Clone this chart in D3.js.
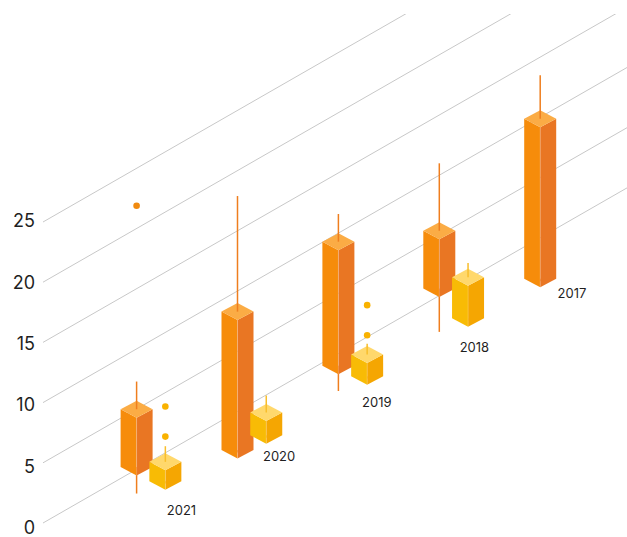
<!DOCTYPE html>
<html>
<head>
<meta charset="utf-8">
<script src="https://cdn.jsdelivr.net/npm/d3@7"></script>
<style>
  html, body { margin: 0; padding: 0; background: #ffffff; }
  svg { display: block; }
</style>
</head>
<body>
<svg id="chart" width="627" height="537"></svg>
<script>
// ---- data -------------------------------------------------------------
const years = ["2021", "2020", "2019", "2018", "2017"];
const valueTicks = [0, 5, 10, 15, 20, 25];

// primary series (orange prisms)
const primaryMin = [1.8, 0.4, 0.7, 0.8, 0.2];
const primaryQ1  = [4.0, 0.6, 2.8, 4.4, 0.4];
const primaryQ3  = [8.8, 12.1, 13.1, 9.2, 13.7];
const primaryMax = [11.1, 21.7, 15.4, 14.8, 17.3];
const primaryOutliers = [[25.7], [], [], [], []];

// secondary series (yellow prisms)
const secondaryMin = [4.0, 3.0, 3.1, 3.1, null];
const secondaryQ1  = [4.2, 3.2, 3.3, 3.3, null];
const secondaryQ3  = [5.8, 5.1, 5.1, 6.7, null];
const secondaryMax = [7.1, 6.5, 6.0, 7.9, null];
const secondaryOutliers = [[10.4, 7.9], [], [9.2, 6.7], [], []];

// ---- styling ----------------------------------------------------------
const palette = {
  primary:   { left: "#F68C0B", right: "#E97623", top: "#FBAC45", whisker: "#EF7E1E", dot: "#F08A10" },
  secondary: { left: "#F8BB05", right: "#F5A602", top: "#FFD86C", whisker: "#F8BE2C", dot: "#F9B200" }
};
const FONT = "Inter, 'Noto Sans', sans-serif";

// ---- projection -------------------------------------------------------
// Oblique 3D: categories run up-right along the grid lines, series lanes
// step down-right towards the viewer, values rise vertically.
const W = 627, H = 537;
const origin = { x: 43, y: 523 };
const slope = 0.5738;              // tan of the receding angle

const height = d3.scaleLinear().domain([0, 25]).range([0, 25 * 12.04]);
const depth  = d3.scalePoint().domain(years).range([53.6, 53.6 + 4 * 100.9]);
const lane   = d3.scaleOrdinal().domain(["primary", "secondary"]).range([40, 68.75]);

function project(a, b, v) {
  return [origin.x + a + b, origin.y - height(v) - slope * a + slope * b];
}

const svg = d3.select("#chart");

// ---- grid lines -------------------------------------------------------
svg.append("defs").append("clipPath").attr("id", "plot-clip")
  .append("rect").attr("x", 0).attr("y", 14).attr("width", W).attr("height", H - 14);

const grid = svg.append("g").attr("clip-path", "url(#plot-clip)");
grid.selectAll("line").data(valueTicks).join("line")
  .attr("x1", v => project(0, 0, v)[0])
  .attr("y1", v => project(0, 0, v)[1])
  .attr("x2", v => project(900, 0, v)[0])
  .attr("y2", v => project(900, 0, v)[1])
  .attr("stroke", "#c8c8c8")
  .attr("stroke-width", 1);

// ---- value axis labels ------------------------------------------------
const labelScale = d3.scaleLinear().domain([0, 25]).range([528, 221]);
const yAxis = svg.append("g")
  .attr("transform", "translate(35,0)")
  .call(d3.axisLeft(labelScale).tickValues(valueTicks).tickSize(0).tickPadding(0).tickFormat(d3.format("d")));
yAxis.select(".domain").remove();
yAxis.attr("font-family", FONT).attr("font-size", 18);
yAxis.selectAll("text").attr("fill", "#1f1f1f");

// ---- boxes ------------------------------------------------------------
const HW = 16, HH = 8.5;   // half width / half height of the top rhombus

const seriesData = {
  primary:   { min: primaryMin, q1: primaryQ1, q3: primaryQ3, max: primaryMax, out: primaryOutliers },
  secondary: { min: secondaryMin, q1: secondaryQ1, q3: secondaryQ3, max: secondaryMax, out: secondaryOutliers }
};

const boxes = [];
years.forEach((yr, i) => {
  ["primary", "secondary"].forEach(key => {
    const s = seriesData[key];
    if (s.q1[i] == null) return;
    boxes.push({ year: yr, key, min: s.min[i], q1: s.q1[i], q3: s.q3[i], max: s.max[i], out: s.out[i] });
  });
});
// draw from the back (last year) to the front
boxes.sort((p, q) => years.indexOf(q.year) - years.indexOf(p.year));

const poly = pts => "M" + pts.map(p => p.join(",")).join("L") + "Z";

const boxLayer = svg.append("g");
boxes.forEach(d => {
  const c = palette[d.key];
  const a = depth(d.year), b = lane(d.key);
  const [x, yTop] = project(a, b, d.q3);
  const yBot = project(a, b, d.q1)[1];
  const yMin = project(a, b, d.min)[1];
  const yMax = project(a, b, d.max)[1];
  const g = boxLayer.append("g");

  // lower whisker, partly hidden behind the prism
  g.append("line").attr("x1", x).attr("x2", x).attr("y1", yBot).attr("y2", yMin)
    .attr("stroke", c.whisker).attr("stroke-width", 1.5);

  g.append("path").attr("d", poly([[x - HW, yTop], [x, yTop + HH], [x, yBot + HH], [x - HW, yBot]]))
    .attr("fill", c.left);
  g.append("path").attr("d", poly([[x, yTop + HH], [x + HW, yTop], [x + HW, yBot], [x, yBot + HH]]))
    .attr("fill", c.right);
  g.append("path").attr("d", poly([[x, yTop - HH], [x + HW, yTop], [x, yTop + HH], [x - HW, yTop]]))
    .attr("fill", c.top);
  g.append("line").attr("x1", x).attr("x2", x).attr("y1", yTop + HH).attr("y2", yBot + HH)
    .attr("stroke", "#ffffff").attr("stroke-opacity", 0.25).attr("stroke-width", 0.8);

  // upper whisker, standing on the top face
  g.append("line").attr("x1", x).attr("x2", x).attr("y1", yTop).attr("y2", yMax)
    .attr("stroke", c.whisker).attr("stroke-width", 1.5);

  g.selectAll("circle").data(d.out).join("circle")
    .attr("cx", x)
    .attr("cy", v => project(a, b, v)[1])
    .attr("r", 3.3)
    .attr("fill", c.dot);
});

// ---- category labels --------------------------------------------------
const labelX = d3.scalePoint().domain(years).range([181.5, 572]);
const labelY = d3.scalePoint().domain(years).range([510.5, 293.5]);
svg.append("g").selectAll("text").data(years).join("text")
  .attr("x", d => labelX(d))
  .attr("y", d => labelY(d))
  .attr("dy", "0.35em")
  .attr("text-anchor", "middle")
  .attr("font-family", FONT)
  .attr("font-size", 13)
  .attr("fill", "#1f1f1f")
  .text(d => d);
</script>
</body>
</html>
